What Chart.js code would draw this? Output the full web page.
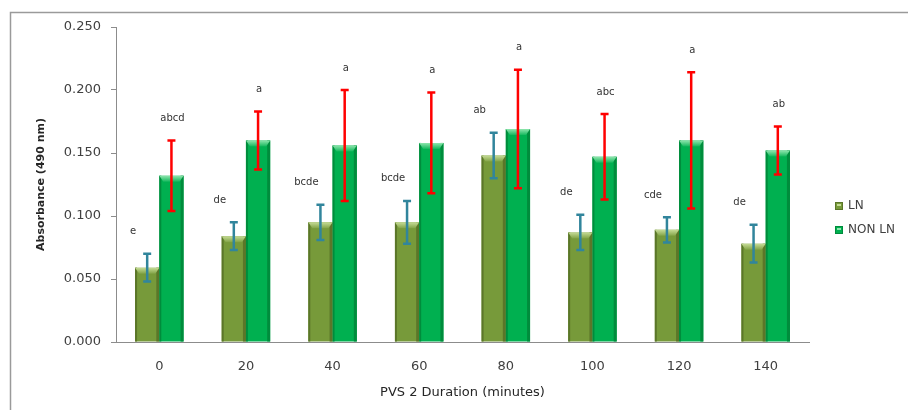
<!DOCTYPE html>
<html>
<head>
<meta charset="utf-8">
<script src="https://cdn.jsdelivr.net/npm/chart.js@4.4.0/dist/chart.umd.min.js"></script>
<style>
  html, body { margin: 0; padding: 0; background: #fff; }
  #wrap { width: 908px; height: 410px; position: relative; }
</style>
</head>
<body>
<div id="wrap"><canvas id="chart"></canvas></div>
<script>
// PVS 2 duration (minutes)
var durations = ["0", "20", "40", "60", "80", "100", "120", "140"];

// mean absorbance at 490 nm
var lnMeans    = [0.059, 0.084, 0.095, 0.095, 0.148, 0.087, 0.089, 0.078];
var nonLnMeans = [0.132, 0.160, 0.156, 0.158, 0.169, 0.147, 0.160, 0.152];

// error bar half widths
var lnErrors    = [0.011, 0.011, 0.014, 0.017, 0.018, 0.014, 0.010, 0.015];
var nonLnErrors = [0.028, 0.023, 0.044, 0.040, 0.047, 0.034, 0.054, 0.019];

// significance letters
var lnLetters    = ["e", "de", "bcde", "bcde", "ab", "de", "cde", "de"];
var nonLnLetters = ["abcd", "a", "a", "a", "a", "abc", "a", "ab"];

var yTicks = [0, 0.05, 0.1, 0.15, 0.2, 0.25];

var fontFamily = "'DejaVu Sans', Verdana, sans-serif";

var styles = [
    { fill: "#779a3a", edge: "#5b7629", top: "#c6dc96", err: "#31859c", letters: lnLetters, errors: lnErrors, shift: -14 },
    { fill: "#00b050", edge: "#008c3c", top: "#8fe6ad", err: "#ff0000", letters: nonLnLetters, errors: nonLnErrors, shift: 1 }
];

// grey frame (only the left and top edges are in the picture)
var framePlugin = {
    id: "frame",
    beforeDraw: function(chart) {
        var ctx = chart.ctx;
        ctx.save();
        ctx.strokeStyle = "#9a9a9a";
        ctx.lineWidth = 1.5;
        ctx.beginPath();
        ctx.moveTo(10.5, chart.height);
        ctx.lineTo(10.5, 12.5);
        ctx.lineTo(chart.width, 12.5);
        ctx.stroke();
        ctx.restore();
    }
};

// bar shading, error bars and letters
var barsPlugin = {
    id: "barExtras",
    afterDatasetsDraw: function(chart) {
        var ctx = chart.ctx;
        var yScale = chart.scales.y;
        ctx.save();
        chart.data.datasets.forEach(function(ds, di) {
            var st = styles[di];
            var meta = chart.getDatasetMeta(di);
            meta.data.forEach(function(bar, i) {
                var left = bar.x - bar.width / 2;
                var right = bar.x + bar.width / 2;
                // dark edges
                ctx.fillStyle = st.edge;
                ctx.fillRect(left, bar.y, 2, bar.base - bar.y);
                ctx.fillRect(right - 3, bar.y, 3, bar.base - bar.y);
                // light top bevel
                var g = ctx.createLinearGradient(0, bar.y, 0, bar.y + 7);
                g.addColorStop(0, st.top);
                g.addColorStop(1, st.fill);
                ctx.fillStyle = g;
                ctx.beginPath();
                ctx.moveTo(left, bar.y);
                ctx.lineTo(right, bar.y);
                ctx.lineTo(right - 4, bar.y + 6);
                ctx.lineTo(left + 4, bar.y + 6);
                ctx.closePath();
                ctx.fill();
            });
        });
        chart.data.datasets.forEach(function(ds, di) {
            var st = styles[di];
            var meta = chart.getDatasetMeta(di);
            meta.data.forEach(function(bar, i) {
                var v = ds.data[i];
                var e = st.errors[i];
                var yTop = yScale.getPixelForValue(v + e);
                var yBot = yScale.getPixelForValue(v - e);
                ctx.strokeStyle = st.err;
                ctx.lineWidth = 2.5;
                ctx.beginPath();
                ctx.moveTo(bar.x, yTop);
                ctx.lineTo(bar.x, yBot);
                ctx.moveTo(bar.x - 4, yTop);
                ctx.lineTo(bar.x + 4, yTop);
                ctx.moveTo(bar.x - 4, yBot);
                ctx.lineTo(bar.x + 4, yBot);
                ctx.stroke();

                ctx.fillStyle = "#333333";
                ctx.font = "10px " + fontFamily;
                ctx.textAlign = "center";
                ctx.textBaseline = "middle";
                ctx.fillText(st.letters[i], bar.x + st.shift, yTop - 22);
            });
        });
        ctx.restore();
    }
};

// legend at the right
var legendPlugin = {
    id: "sideLegend",
    afterDraw: function(chart) {
        var ctx = chart.ctx;
        ctx.save();
        chart.data.datasets.forEach(function(ds, di) {
            var st = styles[di];
            var y = 206 + di * 24;
            var x = 835;
            ctx.fillStyle = st.edge;
            ctx.fillRect(x, y - 4, 8, 8);
            ctx.fillStyle = st.fill;
            ctx.fillRect(x + 1, y - 3, 6, 6);
            ctx.fillStyle = st.top;
            ctx.fillRect(x + 2, y - 2, 4, 2);
            ctx.fillStyle = "#404040";
            ctx.font = "12px " + fontFamily;
            ctx.textAlign = "left";
            ctx.textBaseline = "middle";
            ctx.fillText(ds.label, x + 13, y);
        });
        ctx.restore();
    }
};

new Chart(document.getElementById("chart"), {
    type: "bar",
    data: {
        labels: durations,
        datasets: [
            { label: "LN", data: lnMeans, backgroundColor: styles[0].fill, borderWidth: 0 },
            { label: "NON LN", data: nonLnMeans, backgroundColor: styles[1].fill, borderWidth: 0 }
        ]
    },
    options: {
        responsive: true,
        maintainAspectRatio: false,
        animation: false,
        layout: { padding: { top: 27, right: 99, bottom: 0, left: 0 } },
        datasets: { bar: { categoryPercentage: 0.56, barPercentage: 1.0 } },
        plugins: {
            legend: { display: false },
            tooltip: { enabled: false }
        },
        scales: {
            x: {
                grid: { display: false, drawTicks: false },
                border: { display: true, color: "#8c8c8c", width: 1 },
                ticks: { color: "#404040", padding: 17, font: { family: fontFamily, size: 13 } },
                title: {
                    display: true,
                    text: "PVS 2 Duration (minutes)",
                    color: "#262626",
                    font: { family: fontFamily, size: 13 },
                    padding: { top: 0, bottom: 10 }
                },
                afterFit: function(scale) { scale.height = 68; }
            },
            y: {
                min: 0,
                max: 0.25,
                afterBuildTicks: function(scale) {
                    scale.ticks = yTicks.map(function(v) { return { value: v }; });
                },
                grid: { display: true, drawOnChartArea: false, drawTicks: true, tickLength: 5, color: "#8c8c8c" },
                border: { display: true, color: "#8c8c8c", width: 1 },
                ticks: {
                    color: "#404040",
                    padding: 10,
                    font: { family: fontFamily, size: 13 },
                    callback: function(v) { return Number(v).toFixed(3); }
                },
                title: {
                    display: true,
                    text: "Absorbance (490 nm)",
                    color: "#262626",
                    font: { family: fontFamily, size: 11, weight: "bold" },
                    padding: { top: 35, bottom: 0 }
                },
                afterFit: function(scale) { scale.width = 116; }
            }
        }
    },
    plugins: [framePlugin, barsPlugin, legendPlugin]
});
</script>
</body>
</html>
